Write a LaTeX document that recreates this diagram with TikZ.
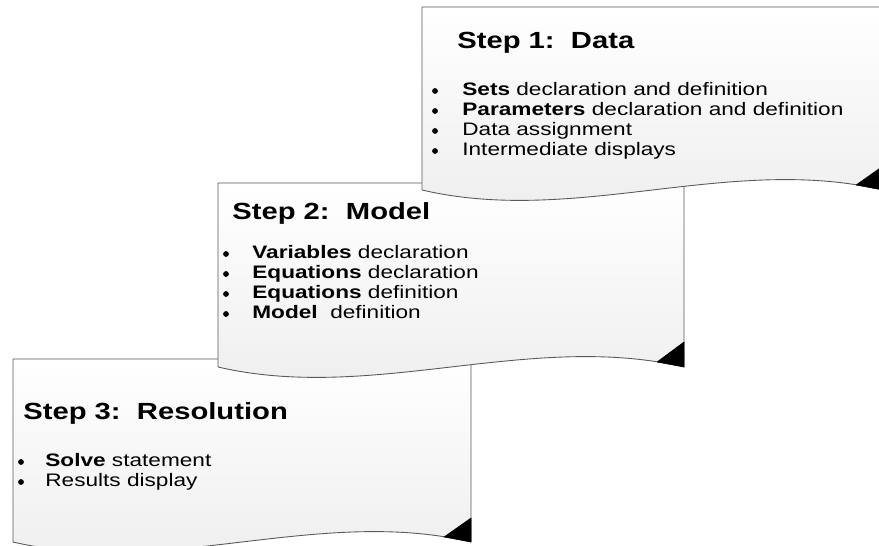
\documentclass[tikz,border=0pt]{standalone}
\usepackage{fontspec}
\setmainfont{Liberation Sans}[FakeStretch=1.25]

\begin{document}
\begin{tikzpicture}[line cap=round,line join=round,x=0.02cm,y=-0.02cm,
  docbox/.style={draw=black!65,line width=0.5pt,top color=white,bottom color=black!7},
  dogear/.style={fill=black,draw=black,line width=0.3pt},
  stephead/.style={anchor=base west,inner sep=0pt,font=\fontsize{13.3}{15}\selectfont\bfseries},
  stepitem/.style={anchor=base west,inner sep=0pt,font=\fontsize{10.3}{12}\selectfont},
  itemdot/.style={circle,fill=black,inner sep=0pt,minimum size=0.115cm}]
\useasboundingbox (0,0) rectangle (879,546);
\clip (0,0) rectangle (879,546);

% step 3 (back)
\draw[docbox] (13,359) -- (471,359) -- (471,542) .. controls (318,506) and (166,578) .. (13,542) -- cycle;
\draw[dogear] (471,518) -- (471,542) -- (444,537) -- cycle;

% step 2
\draw[docbox] (218,183) -- (684,183) -- (684,367) .. controls (529,331) and (373,403) .. (218,367) -- cycle;
\draw[dogear] (684,342) -- (684,367) -- (657,362) -- cycle;

% step 1 (front)
\draw[docbox] (422,7) -- (883,7) -- (883,190) .. controls (729,154) and (576,226) .. (422,190) -- cycle;
\draw[dogear] (883,166) -- (883,190) -- (856,185) -- cycle;

\node[stephead] (h1) at (457,49) {Step 1:\ \ Data};
\node[itemdot] (d11) at (435,91) {};
\node[itemdot] (d12) at (435,111) {};
\node[itemdot] (d13) at (435,131) {};
\node[itemdot] (d14) at (435,151) {};
\node[stepitem] (t11) at (462,96) {\textbf{Sets} declaration and definition};
\node[stepitem] (t12) at (462,116) {\textbf{Parameters} declaration and definition};
\node[stepitem] (t13) at (462,136) {Data assignment};
\node[stepitem] (t14) at (462,156) {Intermediate displays};

\node[stephead] (h2) at (232,220) {Step 2:\ \ Model};
\node[itemdot] (d21) at (226,254) {};
\node[itemdot] (d22) at (226,274) {};
\node[itemdot] (d23) at (226,294) {};
\node[itemdot] (d24) at (226,314) {};
\node[stepitem] (t21) at (252,259) {\textbf{Variables} declaration};
\node[stepitem] (t22) at (252,279) {\textbf{Equations} declaration};
\node[stepitem] (t23) at (252,299) {\textbf{Equations} definition};
\node[stepitem] (t24) at (252,319) {\textbf{Model}\ \ definition};

\node[stephead] (h3) at (23,420) {Step 3:\ \ Resolution};
\node[itemdot] (d31) at (21,462) {};
\node[itemdot] (d32) at (21,482) {};
\node[stepitem] (t31) at (45,467) {\textbf{Solve} statement};
\node[stepitem] (t32) at (45,487) {Results display};

\end{tikzpicture}
\end{document}
